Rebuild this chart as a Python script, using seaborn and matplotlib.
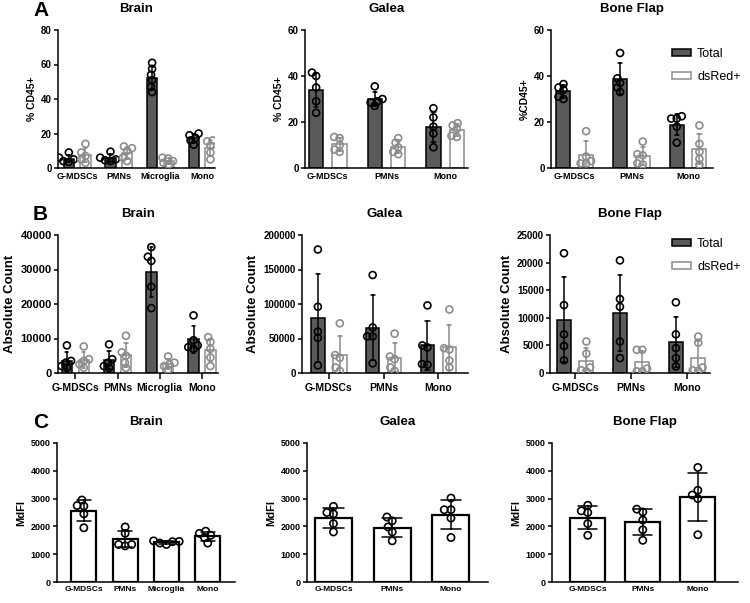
import matplotlib
matplotlib.use("Agg")
import matplotlib.pyplot as plt
import seaborn as sns
import pandas as pd
from matplotlib.patches import Patch

# ---- values ----
cells4 = ["G-MDSCs", "PMNs", "Microglia", "Mono"]
cells3 = ["G-MDSCs", "PMNs", "Mono"]
groups = ["Total", "dsRed+"]

# A: %CD45+
pct_brain_total = [[9, 6, 5, 4, 3.5], [9.5, 6, 5, 4.5, 4], [61, 57.5, 54, 51, 47, 44], [20, 19, 17.5, 16, 13.5]]
pct_brain_dsred = [[14, 9, 7, 5, 3], [12.5, 11.5, 10, 6, 4], [6, 5.5, 4, 3, 2], [16, 15.5, 13, 9, 5]]
pct_galea_total = [[41.5, 40, 35, 29, 24], [35.5, 30, 29, 28.5, 27], [26, 22, 18, 15, 9]]
pct_galea_dsred = [[13.5, 13, 10, 8, 7], [13, 11, 9, 7, 6], [19.5, 18.5, 17, 14, 13.5]]
pct_bone_total = [[36.5, 35, 34, 31, 30], [50, 39, 37, 35, 33], [22.5, 21.5, 21.5, 18, 11]]
pct_bone_dsred = [[16, 5, 3, 2, 2], [11.5, 6, 5.5, 2, 1.5], [18.5, 10.5, 7, 4, 1.5]]

# B: absolute count
abs_brain_total = [[8000, 3500, 3000, 2000, 1500], [8300, 4000, 3000, 2000, 1500],
                   [36500, 33700, 32500, 25000, 18800], [16700, 9500, 8000, 7500, 7000]]
abs_brain_dsred = [[7700, 4000, 3500, 2500, 1500], [10800, 6000, 5000, 3000, 1500],
                   [4800, 3000, 2500, 2000, 1000], [10400, 9000, 7000, 4500, 2000]]
abs_galea_total = [[179000, 96000, 60000, 51000, 11000], [142000, 66000, 53000, 53000, 14000],
                   [98000, 40000, 37000, 13000, 12000]]
abs_galea_dsred = [[72000, 26000, 22000, 8000, 3000], [57000, 24000, 20000, 8000, 3000],
                   [92000, 36000, 34000, 18000, 8000]]
abs_bone_total = [[21700, 12300, 7000, 4900, 2300], [20400, 13400, 12000, 5700, 2700],
                  [12800, 7000, 4500, 2700, 1200]]
abs_bone_dsred = [[5700, 3500, 1000, 500, 300], [4200, 4200, 800, 300, 300],
                  [6600, 5500, 1000, 500, 400]]

# C: MdFI
mdfi_brain = [[2950, 2750, 2730, 2450, 1950], [1980, 1750, 1350, 1350, 1300],
              [1480, 1460, 1450, 1400, 1350], [1830, 1750, 1680, 1600, 1400]]
mdfi_galea = [[2720, 2500, 2450, 2100, 1800], [2340, 2200, 1980, 1800, 1480],
              [3020, 2600, 2600, 2300, 1600]]
mdfi_bone = [[2760, 2560, 2500, 2100, 1680], [2620, 2520, 2230, 1880, 1500],
             [4120, 3300, 3130, 3000, 1700]]

DARK = "#5a5a5a"
GREY = "#8c8c8c"

sns.set_theme(style="ticks")
plt.rcParams["font.family"] = ["Liberation Sans", "DejaVu Sans"]
plt.rcParams["font.weight"] = "bold"
plt.rcParams["axes.edgecolor"] = "black"
plt.rcParams["xtick.color"] = "black"
plt.rcParams["ytick.color"] = "black"
plt.rcParams["text.color"] = "black"
plt.rcParams["axes.labelcolor"] = "black"

W, H = 750, 603
fig = plt.figure(figsize=(7.5, 6.03), dpi=100)
swarms = []  # (collection, final marker size)


def px(l, t, r, b):
    return [l / W, 1 - b / H, (r - l) / W, (b - t) / H]


def long_df(cells, values, group):
    rows = [(c, v, group) for c, vals in zip(cells, values) for v in vals]
    return pd.DataFrame(rows, columns=["cell", "value", "group"])


def style(ax, cells, xlim, ylim, yticks, ylabel, title, fs=7, lab_fs=7.5, xtick_len=0):
    ax.set_xlim(xlim)
    ax.set_ylim(ylim)
    ax.set_yticks(yticks)
    ax.set_yticklabels([str(t) for t in yticks])
    ax.set_xticks(range(len(cells)))
    ax.set_xticklabels(cells)
    ax.set_xlabel("")
    ax.set_ylabel(ylabel, fontsize=lab_fs, fontweight="bold", labelpad=3)
    ax.set_title(title, fontsize=9.5, fontweight="bold", pad=13)
    sns.despine(ax=ax)
    for s in ["left", "bottom"]:
        ax.spines[s].set_linewidth(1.1)
    ax.tick_params(axis="y", width=1.1, length=3, labelsize=fs, pad=1.5)
    ax.tick_params(axis="x", width=1.1, length=xtick_len, labelsize=fs - 0.5, pad=3)


def pair_panel(rect, cells, total, dsred, xlim, ylim, yticks, ylabel, title, fs=7, lab_fs=7.5):
    ax = fig.add_axes(px(*rect))
    for vals, grp, face, edge in [(total, "Total", DARK, "black"), (dsred, "dsRed+", "white", GREY)]:
        df = long_df(cells, vals, grp)
        sns.barplot(data=df, x="cell", y="value", hue="group", hue_order=groups, order=cells,
                    dodge=True, palette={"Total": face, "dsRed+": face}, saturation=1,
                    errorbar="sd", capsize=0.15, gap=0.38, edgecolor=edge, linewidth=1.1,
                    err_kws={"color": edge, "linewidth": 1.1}, legend=False, ax=ax)
        n0 = len(ax.collections)
        sns.swarmplot(data=df, x="cell", y="value", hue="group", hue_order=groups, order=cells,
                      dodge=True, palette={"Total": "white", "dsRed+": "white"},
                      edgecolor=edge, linewidth=1.2, size=2.6, legend=False, zorder=3, ax=ax)
        swarms.extend((c, 5.0) for c in ax.collections[n0:])
    style(ax, cells, xlim, ylim, yticks, ylabel, title, fs, lab_fs, xtick_len=0)
    return ax


def single_panel(rect, cells, vals, width, xlim, title, fs=6.5):
    ax = fig.add_axes(px(*rect))
    df = long_df(cells, vals, "MdFI")
    sns.barplot(data=df, x="cell", y="value", order=cells, color="white", saturation=1,
                edgecolor="black", linewidth=1.6, width=width, errorbar="sd", capsize=0.35,
                err_kws={"color": "black", "linewidth": 1.1}, ax=ax)
    n0 = len(ax.collections)
    sns.swarmplot(data=df, x="cell", y="value", order=cells, color="white", edgecolor="black",
                  linewidth=1.2, size=3.4, zorder=3, ax=ax)
    swarms.extend((c, 5.2) for c in ax.collections[n0:])
    style(ax, cells, xlim, (0, 5000), [0, 1000, 2000, 3000, 4000, 5000], "MdFI", title, fs, 8)
    return ax


def add_legend(ax, top):
    handles = [Patch(facecolor=DARK, edgecolor="black", linewidth=1.1, label="Total"),
               Patch(facecolor="white", edgecolor=GREY, linewidth=1.1, label="dsRed+")]
    ax.legend(handles=handles, loc="upper left", bbox_to_anchor=(672 / W, 1 - top / H),
              bbox_transform=fig.transFigure, frameon=False, handlelength=1.55, handleheight=0.45,
              handletextpad=0.45, labelspacing=0.85, borderpad=0, borderaxespad=0,
              prop={"size": 9, "weight": "normal"})


# ---- row A ----
pair_panel((58, 30, 215, 168), cells4, pct_brain_total, pct_brain_dsred, (-0.46, 3.31),
           (0, 80), [0, 20, 40, 60, 80], "% CD45+", "Brain")
pair_panel((305, 30, 468, 168), cells3, pct_galea_total, pct_galea_dsred, (-0.39, 2.39),
           (0, 60), [0, 20, 40, 60], "% CD45+", "Galea")
axA3 = pair_panel((551, 30, 713, 168), cells3, pct_bone_total, pct_bone_dsred, (-0.42, 2.44),
                  (0, 60), [0, 20, 40, 60], "%CD45+", "Bone Flap")
add_legend(axA3, 48)

# ---- row B ----
axB1 = pair_panel((58, 235, 218, 373), cells4, abs_brain_total, abs_brain_dsred, (-0.41, 3.38),
                  (0, 40000), [0, 10000, 20000, 30000, 40000], "Absolute Count", "Brain",
                  fs=8, lab_fs=9.5)
axB2 = pair_panel((302, 235, 468, 373), cells3, abs_galea_total, abs_galea_dsred, (-0.49, 2.54),
                  (0, 200000), [0, 50000, 100000, 150000, 200000], "Absolute Count", "Galea",
                  lab_fs=9.5)
axB3 = pair_panel((550, 235, 710, 373), cells3, abs_bone_total, abs_bone_dsred, (-0.45, 2.41),
                  (0, 25000), [0, 5000, 10000, 15000, 20000, 25000], "Absolute Count", "Bone Flap",
                  lab_fs=9.5)
for ax in (axB1, axB2, axB3):
    ax.tick_params(axis="x", length=4, labelsize=7.5)
add_legend(axB3, 238)

# ---- row C ----
single_panel((57, 443, 235, 582), cells4, mdfi_brain, 0.6, (-0.65, 3.66), "Brain")
single_panel((307, 443, 488, 582), cells3, mdfi_galea, 0.63, (-0.45, 2.63), "Galea")
single_panel((552, 443, 738, 582), cells3, mdfi_bone, 0.64, (-0.65, 2.73), "Bone Flap")

# panel letters
for letter, top in [("A", 1), ("B", 205), ("C", 413)]:
    fig.text(33 / W, 1 - top / H, letter, fontsize=15, fontweight="bold", ha="left", va="top")

# lay the swarms out with small markers, then freeze them and draw bigger open circles
fig.canvas.draw()
for coll, size in swarms:
    if "draw" in coll.__dict__:
        del coll.draw
    coll.set_sizes([size ** 2])
    coll.set_facecolor("none")

fig.savefig("out.png", dpi=100, facecolor="white")
